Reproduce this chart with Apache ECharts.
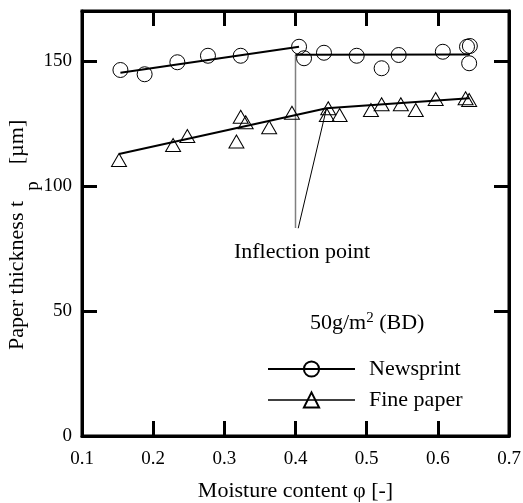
<!DOCTYPE html>
<html>
<head>
<meta charset="utf-8">
<script src="https://cdn.jsdelivr.net/npm/echarts@6/dist/echarts.min.js"></script>
<style>html,body{margin:0;padding:0;background:#fff}#c{width:523px;height:503px}</style>
</head>
<body>
<div id="c"></div>
<script>
// Data
var newsprintX = [0.154, 0.188, 0.234, 0.277, 0.323, 0.405, 0.412, 0.440, 0.486, 0.521, 0.545, 0.607, 0.641, 0.645, 0.644];
var newsprintY = [146.4, 144.7, 149.5, 152.1, 152.1, 155.7, 151.1, 153.3, 152.1, 147.1, 152.4, 153.7, 155.7, 156.0, 149.1];
var fineX = [0.152, 0.228, 0.248, 0.317, 0.323, 0.330, 0.363, 0.395, 0.446, 0.444, 0.462, 0.506, 0.521, 0.548, 0.569, 0.597, 0.639, 0.644];
var fineY = [110.4, 116.4, 120.0, 117.8, 127.7, 125.5, 123.5, 129.3, 131.1, 128.4, 128.4, 130.4, 132.7, 132.7, 130.4, 134.8, 135.1, 134.4];
// fitted lines
var newsFit1X = [0.154, 0.405], newsFit1Y = [145.3, 155.7];
var newsFit2X = [0.400, 0.645], newsFit2Y = [152.5, 152.6];
var fineFitX = [0.152, 0.4436, 0.644], fineFitY = [112.8, 131.1, 135.1];
// annotation pointers
var pointer1X = [0.400, 0.400], pointer1Y = [152.5, 83.2];
var pointer2X = [0.4436, 0.4038], pointer2Y = [131.1, 83.1];
var xTicks = [0.1, 0.2, 0.3, 0.4, 0.5, 0.6, 0.7];
var yTicks = [0, 50, 100, 150];

function zip(a, b) { return a.map(function (v, i) { return [v, b[i]]; }); }

var FONT = 'Liberation Serif';
var chart = echarts.init(document.getElementById('c'), null, {renderer: 'canvas'});
function axisLine() { return {show: true, onZero: false, lineStyle: {color: '#000', width: 3}}; }
function axisTick() { return {show: true, inside: true, length: 15, lineStyle: {color: '#000', width: 3}}; }

var option = {
  backgroundColor: '#fff',
  animation: false,
  grid: {left: 82, right: 14, top: 11, bottom: 67, containLabel: false, outerBoundsMode: 'none',
    show: true, borderColor: '#000', borderWidth: 3, backgroundColor: 'rgba(0,0,0,0)'},
  xAxis: [{
    type: 'value', min: 0.1, max: 0.7, interval: 0.1, position: 'bottom',
    axisLine: axisLine(), axisTick: axisTick(), splitLine: {show: false},
    axisLabel: {margin: 14, color: '#000', fontFamily: FONT, fontSize: 19,
      formatter: function (v) { return v.toFixed(1); }},
    name: 'Moisture content \u03c6 [-]', nameLocation: 'middle', nameGap: 44,
    nameTextStyle: {color: '#000', fontFamily: FONT, fontSize: 22}
  }, {
    type: 'value', min: 0.1, max: 0.7, interval: 0.1, position: 'top',
    axisLine: axisLine(), axisTick: axisTick(), splitLine: {show: false},
    axisLabel: {show: false}
  }],
  yAxis: [{
    type: 'value', min: 0, max: 170, interval: 50, position: 'left',
    axisLine: axisLine(), axisTick: axisTick(), splitLine: {show: false},
    axisLabel: {margin: 10, color: '#000', fontFamily: FONT, fontSize: 19, showMaxLabel: false,
      formatter: function (v) { return yTicks.indexOf(v) >= 0 ? String(v) : ''; }}
  }, {
    type: 'value', min: 0, max: 170, interval: 50, position: 'right',
    axisLine: axisLine(), axisTick: axisTick(), splitLine: {show: false},
    axisLabel: {show: false}
  }],
  legend: {
    left: 267, top: 358, padding: 0, orient: 'vertical', itemWidth: 87, itemHeight: 19, itemGap: 9,
    textStyle: {color: '#000', fontFamily: FONT, fontSize: 22, padding: [0, 0, 0, 9]},
    data: [
      {name: 'Newsprint', lineStyle: {width: 2, color: '#000', opacity: 1}},
      {name: 'Fine paper', lineStyle: {width: 1.3, color: '#000', opacity: 1}}
    ]
  },
  series: [
    {name: 'NewsFit1', type: 'line', data: zip(newsFit1X, newsFit1Y), symbol: 'none',
      lineStyle: {color: '#000', width: 2}, silent: true, z: 3},
    {name: 'NewsFit2', type: 'line', data: zip(newsFit2X, newsFit2Y), symbol: 'none',
      lineStyle: {color: '#000', width: 2}, silent: true, z: 3},
    {name: 'FineFit', type: 'line', data: zip(fineFitX, fineFitY), symbol: 'none',
      lineStyle: {color: '#000', width: 2}, silent: true, z: 3},
    {name: 'Pointer1', type: 'line', data: zip(pointer1X, pointer1Y), symbol: 'none',
      lineStyle: {color: '#808080', width: 1.5}, silent: true, z: 2},
    {name: 'Pointer2', type: 'line', data: zip(pointer2X, pointer2Y), symbol: 'none',
      lineStyle: {color: '#000', width: 1}, silent: true, z: 2},
    {name: 'Newsprint', type: 'line', data: zip(newsprintX, newsprintY),
      symbol: 'circle', symbolSize: 15, showAllSymbol: true,
      lineStyle: {width: 0, opacity: 0},
      itemStyle: {color: 'rgba(0,0,0,0)', borderColor: '#000', borderWidth: 1}, z: 4},
    {name: 'Fine paper', type: 'line', data: zip(fineX, fineY),
      symbol: 'triangle', symbolSize: [15, 13], showAllSymbol: true,
      lineStyle: {width: 0, opacity: 0},
      itemStyle: {color: 'rgba(0,0,0,0)', borderColor: '#000', borderWidth: 1}, z: 4}
  ],
  graphic: [
    {type: 'text', x: 17, y: 350, rotation: Math.PI / 2,
      style: {text: 'Paper thickness t', align: 'left', verticalAlign: 'middle',
        fontFamily: FONT, fontSize: 22, fill: '#000'}},
    {type: 'text', x: 33, y: 186, rotation: Math.PI / 2,
      style: {text: 'p', align: 'center', verticalAlign: 'middle',
        fontFamily: FONT, fontSize: 19, fill: '#000'}},
    {type: 'text', x: 17, y: 142, rotation: Math.PI / 2,
      style: {text: '[\u00b5m]', align: 'center', verticalAlign: 'middle',
        fontFamily: FONT, fontSize: 22, fill: '#000'}},
    {type: 'text', x: 302, y: 252,
      style: {text: 'Inflection point', align: 'center', verticalAlign: 'middle',
        fontFamily: FONT, fontSize: 22, fill: '#000'}},
    {type: 'text', x: 310, y: 323,
      style: {text: '{a|50g/m}{sup|2}{a| (BD)}', align: 'left', verticalAlign: 'middle',
        rich: {a: {fontFamily: FONT, fontSize: 22, fill: '#000'},
               sup: {fontFamily: FONT, fontSize: 15, fill: '#000', padding: [0, 0, 9, 0]}}}}
  ]
};
chart.setOption(option);
</script>
</body>
</html>
